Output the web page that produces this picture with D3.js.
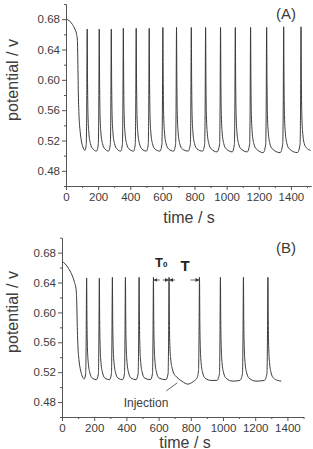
<!DOCTYPE html>
<html>
<head>
<meta charset="utf-8">
<script src="https://cdn.jsdelivr.net/npm/d3@7"></script>
<style>
  body { margin: 0; background: #fff; }
  svg { display: block; font-family: "Liberation Sans", Arial, sans-serif; }
</style>
</head>
<body>
<div id="chart"></div>
<script>
// potential (V) vs time (s)
const seriesA = [
  [0,0.680],[20,0.678],[40,0.673],[55,0.667],[66,0.660],[71,0.652],[74,0.620],[77,0.580],[81,0.553],[88,0.532],[97,0.518],[108,0.510],[118,0.507],
  [126,0.515],[129,0.560],[132,0.667],[134,0.600],[137,0.553],[142,0.531],[152,0.516],[167,0.509],[190,0.506],
  [201,0.515],[204,0.560],[207,0.667],[209,0.600],[212,0.553],[217,0.531],[227,0.516],[242,0.509],[265,0.506],
  [276,0.515],[279,0.560],[282,0.667],[284,0.600],[287,0.553],[292,0.531],[302,0.516],[317,0.509],[340,0.506],
  [351,0.515],[354,0.560],[357,0.668],[359,0.600],[362,0.553],[367,0.531],[377,0.516],[392,0.509],[420,0.506],
  [431,0.515],[434,0.560],[437,0.668],[439,0.600],[442,0.553],[447,0.531],[457,0.516],[472,0.509],[500,0.506],
  [512,0.515],[515,0.560],[518,0.668],[520,0.600],[523,0.553],[528,0.531],[538,0.516],[553,0.509],[585,0.506],
  [597,0.515],[600,0.560],[603,0.669],[605,0.600],[608,0.553],[613,0.531],[623,0.516],[638,0.509],[670,0.506],
  [682,0.515],[685,0.560],[688,0.669],[690,0.600],[693,0.553],[698,0.531],[708,0.516],[723,0.509],[760,0.506],
  [774,0.515],[777,0.560],[780,0.669],[782,0.600],[785,0.553],[790,0.531],[800,0.516],[815,0.509],[850,0.506],
  [863,0.515],[866,0.560],[869,0.669],[871,0.600],[874,0.553],[879,0.531],[889,0.516],[904,0.509],[940,0.505],
  [956,0.515],[959,0.560],[962,0.669],[964,0.600],[967,0.553],[972,0.531],[982,0.516],[997,0.509],[1035,0.505],
  [1048,0.515],[1051,0.560],[1054,0.669],[1056,0.600],[1059,0.553],[1064,0.531],[1074,0.516],[1089,0.509],[1128,0.505],
  [1143,0.515],[1146,0.560],[1149,0.669],[1151,0.600],[1154,0.553],[1159,0.531],[1169,0.516],[1184,0.509],[1228,0.504],
  [1243,0.515],[1246,0.560],[1249,0.669],[1251,0.600],[1254,0.553],[1259,0.531],[1269,0.516],[1284,0.509],[1333,0.504],
  [1349,0.515],[1352,0.560],[1355,0.670],[1357,0.600],[1360,0.553],[1365,0.531],[1375,0.516],[1390,0.509],[1440,0.504],
  [1457,0.515],[1460,0.560],[1463,0.670],[1465,0.600],[1468,0.553],[1473,0.531],[1483,0.516],[1498,0.510],[1522,0.507]
];

const seriesB = [
  [0,0.668],[20,0.665],[40,0.659],[60,0.651],[78,0.640],[88,0.630],[92,0.610],[95,0.580],[99,0.555],[106,0.535],[115,0.523],[125,0.515],[138,0.511],
  [147,0.518],[150,0.560],[153,0.646],[155,0.590],[158,0.553],[163,0.533],[173,0.519],[188,0.512],[214,0.510],
  [226,0.518],[229,0.560],[232,0.646],[234,0.590],[237,0.553],[242,0.533],[252,0.519],[267,0.512],[295,0.510],
  [307,0.518],[310,0.560],[313,0.647],[315,0.590],[318,0.553],[323,0.533],[333,0.519],[348,0.512],[376,0.510],
  [388,0.518],[391,0.560],[394,0.647],[396,0.590],[399,0.553],[404,0.533],[414,0.519],[429,0.512],[460,0.510],
  [473,0.518],[476,0.560],[479,0.647],[481,0.590],[484,0.553],[489,0.533],[499,0.519],[514,0.512],[550,0.510],
  [562,0.518],[565,0.560],[568,0.647],[570,0.590],[573,0.553],[578,0.533],[588,0.519],[603,0.512],[645,0.510],
  [659,0.518],[662,0.560],[665,0.647],[667,0.590],[670,0.555],[676,0.536],[687,0.523],[700,0.516],[712,0.514],[724,0.511],
  [745,0.508],[765,0.505],[783,0.504],[805,0.506],[825,0.509],[840,0.513],
  [848,0.522],[851,0.565],[854,0.647],[856,0.590],[859,0.553],[864,0.533],[874,0.519],[889,0.512],[925,0.509],[962,0.509],
  [978,0.518],[981,0.560],[984,0.647],[986,0.590],[989,0.553],[994,0.533],[1004,0.519],[1019,0.512],[1060,0.508],[1105,0.509],
  [1121,0.518],[1124,0.560],[1127,0.647],[1129,0.590],[1132,0.553],[1137,0.533],[1147,0.519],[1162,0.512],[1205,0.508],[1257,0.509],
  [1273,0.518],[1276,0.560],[1279,0.647],[1281,0.590],[1284,0.553],[1289,0.533],[1299,0.519],[1314,0.512],[1340,0.509],[1362,0.508]
];

const timeTicks = [0, 200, 400, 600, 800, 1000, 1200, 1400];
const timeMinor = [100, 300, 500, 700, 900, 1100, 1300, 1500];
const potTicks = [0.48, 0.52, 0.56, 0.60, 0.64, 0.68];
const potMinor = [0.46, 0.50, 0.54, 0.58, 0.62, 0.66, 0.70];
const potDomain = [0.46, 0.70];

// B annotations: spikes bounding T0 and T, and the injection point
const periodMarks = [568, 665, 854];
const injection = [722, 0.511];

const W = 313, H = 449;
const ink = "#3c3c3c", axisInk = "#555";

const svg = d3.select("#chart").append("svg")
    .attr("width", W)
    .attr("height", H);

function panel(p) {
    const x = d3.scaleLinear().domain([0, p.tMax]).range([p.left, p.right]);
    const y = d3.scaleLinear().domain(potDomain).range([p.bottom, p.top]);
    const g = svg.append("g");

    // minor ticks first, then the labelled axes on top
    g.append("g")
        .attr("transform", `translate(0,${p.bottom})`)
        .call(d3.axisBottom(x).tickValues(timeMinor.filter(t => t <= p.tMax)).tickSize(2).tickSizeOuter(0).tickFormat(""));
    g.append("g")
        .attr("transform", `translate(${p.left},0)`)
        .call(d3.axisLeft(y).tickValues(potMinor).tickSize(2).tickSizeOuter(0).tickFormat(""));

    g.append("g")
        .attr("transform", `translate(0,${p.bottom})`)
        .call(d3.axisBottom(x).tickValues(timeTicks).tickSize(4).tickPadding(3).tickSizeOuter(0)
            .tickFormat(d3.format("d")));
    g.append("g")
        .attr("transform", `translate(${p.left},0)`)
        .call(d3.axisLeft(y).tickValues(potTicks).tickSize(4).tickPadding(2).tickSizeOuter(0)
            .tickFormat(d3.format(".2f")));

    g.selectAll(".domain, .tick line").attr("stroke", axisInk).attr("stroke-width", 1);
    g.selectAll(".tick text").attr("fill", ink).style("font-size", "11.5px");

    const line = d3.line()
        .x(d => x(d[0]))
        .y(d => y(d[1]))
        .curve(d3.curveMonotoneX);

    g.append("path")
        .datum(p.data)
        .attr("fill", "none")
        .attr("stroke", "#3a3a3a")
        .attr("stroke-width", 1)
        .attr("d", line);

    g.append("text")
        .attr("transform", `translate(18,${p.labelY}) rotate(-90)`)
        .attr("text-anchor", "middle")
        .attr("fill", ink)
        .style("font-size", "16px")
        .text("potential / v");

    g.append("text")
        .attr("x", p.titleX)
        .attr("y", p.titleY)
        .attr("text-anchor", "middle")
        .attr("fill", ink)
        .style("font-size", "16px")
        .text("time / s");

    g.append("text")
        .attr("x", 286)
        .attr("y", p.top + 15)
        .attr("text-anchor", "middle")
        .attr("fill", ink)
        .style("font-size", "15px")
        .text(p.tag);

    return { g, x, y };
}

panel({ data: seriesA, tMax: 1525, left: 66, right: 311, top: 4, bottom: 186,
        labelY: 80, titleX: 189, titleY: 223, tag: "(A)" });

const b = panel({ data: seriesB, tMax: 1500, left: 62, right: 303.5, top: 237.7, bottom: 417,
        labelY: 312, titleX: 185, titleY: 448, tag: "(B)" });

// period annotation arrows
svg.append("defs").append("marker")
    .attr("id", "head")
    .attr("viewBox", "0 0 6 6")
    .attr("refX", 6).attr("refY", 3)
    .attr("markerWidth", 5).attr("markerHeight", 5)
    .attr("orient", "auto")
    .append("path").attr("d", "M0,0L6,3L0,6Z").attr("fill", ink);

const ay = 280;
const [s0, s1, s2] = periodMarks.map(b.x);
const arrows = [
    [(s0 + s1) / 2 - 1.5, s0], [(s0 + s1) / 2 + 1.5, s1],
    [s1 + 6, s1], [s2 - 9, s2]
];
b.g.selectAll(".arr")
    .data(arrows)
    .join("line")
    .attr("x1", d => d[0]).attr("x2", d => d[1])
    .attr("y1", ay).attr("y2", ay)
    .attr("stroke", ink).attr("stroke-width", 0.8)
    .attr("marker-end", "url(#head)");

const t0 = b.g.append("text")
    .attr("x", s0 + 1.5).attr("y", 267)
    .attr("fill", "#222")
    .style("font-size", "13px").style("font-weight", "bold");
t0.append("tspan").text("T");
t0.append("tspan").style("font-size", "8px").text("0");

b.g.append("text")
    .attr("x", 185).attr("y", 271)
    .attr("text-anchor", "middle")
    .attr("fill", "#222")
    .style("font-size", "15px").style("font-weight", "bold")
    .text("T");

// injection pointer
const ix = b.x(injection[0]), iy = b.y(injection[1]);
b.g.append("line")
    .attr("x1", ix - 12).attr("y1", iy + 12)
    .attr("x2", ix - 1).attr("y2", iy + 4)
    .attr("stroke", ink).attr("stroke-width", 0.8);

b.g.append("text")
    .attr("x", 146).attr("y", 407)
    .attr("text-anchor", "middle")
    .attr("fill", ink)
    .style("font-size", "12px")
    .text("Injection");
</script>
</body>
</html>
